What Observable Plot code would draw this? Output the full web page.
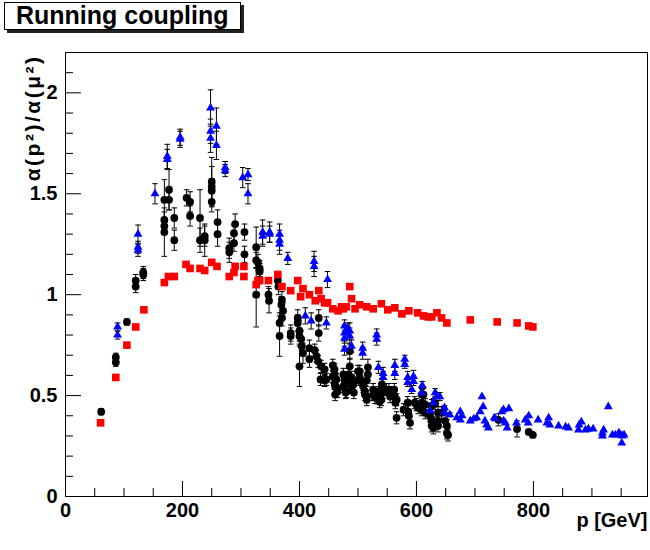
<!DOCTYPE html>
<html><head><meta charset="utf-8">
<script src="https://cdn.jsdelivr.net/npm/d3@7"></script>
<script src="https://cdn.jsdelivr.net/npm/@observablehq/plot@0.6"></script>
<style>
body{margin:0;background:#fff;}
#wrap{position:relative;width:650px;height:550px;}
#title{position:absolute;left:4px;top:2px;width:237px;height:28px;border:1px solid #000;background:#fff;box-shadow:3px 3px 0 #222;font:bold 25px "Liberation Sans",Arial,sans-serif;line-height:21px;padding-left:11px;padding-top:2px;box-sizing:border-box;color:#000;}
</style></head><body><div id="wrap"><div id="title">Running coupling</div></div>
<script>
// ---- data ----
const blackP = [61,86,86,105,120,120,133,133,169,169,169,169,177,177,186,186,207,213,213,230,230,238,238,250,250,250,250,260,260,280,280,288,288,290,306,306,326,326,329,332,332,326,347,348,363,364,369,370,372,370,366,366,385,385,397,397,400,400,403,404,406,400,417,417,426,429,433,433,432,437,443,436,443,446,457,460,457,460,463,460,461,463,465,461,475,477,477,475,480,479,486,486,484,489,488,492,489,493,500,503,503,501,509,509,512,512,515,515,517,517,515,526,526,529,532,535,535,537,539,540,541,543,549,553,555,555,560,562,563,564,566,566,578,585,586,587,589,597,600,603,609,609,612,609,615,615,623,626,626,626,626,629,632,637,635,637,637,643,649,652,654,652,740,772,792,799];
const blackV = [0.42,0.69,0.665,0.865,1.07,1.04,1.11,1.10,1.47,1.37,1.34,1.31,1.52,1.47,1.38,1.27,1.48,1.46,1.39,1.38,1.27,1.29,1.27,1.56,1.535,1.515,1.46,1.36,1.30,1.23,1.21,1.305,1.255,1.35,1.31,1.20,1.235,1.17,1.16,1.13,1.115,1.00,1.00,0.97,1.07,1.04,0.95,0.975,0.92,0.885,0.86,0.795,0.81,0.795,0.885,0.86,0.82,0.795,0.78,0.745,0.71,0.645,0.735,0.68,0.725,0.695,0.885,0.81,0.67,0.645,0.63,0.58,0.575,0.58,0.65,0.63,0.595,0.605,0.58,0.56,0.545,0.54,0.52,0.505,0.605,0.58,0.555,0.545,0.52,0.515,0.72,0.645,0.605,0.59,0.57,0.555,0.54,0.515,0.62,0.62,0.59,0.58,0.555,0.545,0.52,0.505,0.495,0.48,0.64,0.605,0.575,0.53,0.505,0.49,0.49,0.515,0.495,0.47,0.53,0.48,0.555,0.515,0.53,0.53,0.495,0.515,0.515,0.53,0.495,0.465,0.48,0.39,0.43,0.465,0.42,0.40,0.365,0.465,0.455,0.44,0.43,0.505,0.505,0.465,0.455,0.415,0.40,0.45,0.375,0.38,0.35,0.34,0.46,0.415,0.365,0.35,0.375,0.415,0.375,0.35,0.305,0.315,0.38,0.335,0.32,0.305];
const blackE = [0.015,0.02,0.02,0.015,0.03,0.03,0.03,0.03,0.10,0.04,0.04,0.12,0.10,0.05,0.05,0.05,0.04,0.05,0.05,0.14,0.06,0.05,0.08,0.12,0.10,0.06,0.05,0.06,0.06,0.05,0.05,0.04,0.04,0.05,0.04,0.04,0.10,0.04,0.04,0.04,0.04,0.16,0.04,0.06,0.04,0.04,0.04,0.04,0.04,0.04,0.05,0.10,0.04,0.04,0.04,0.04,0.05,0.04,0.04,0.04,0.05,0.10,0.04,0.04,0.03,0.03,0.04,0.04,0.03,0.03,0.03,0.03,0.03,0.03,0.03,0.03,0.03,0.03,0.03,0.03,0.03,0.03,0.03,0.03,0.03,0.03,0.03,0.03,0.03,0.03,0.04,0.04,0.03,0.03,0.03,0.03,0.03,0.03,0.03,0.03,0.03,0.03,0.03,0.03,0.03,0.03,0.03,0.03,0.04,0.03,0.03,0.03,0.03,0.03,0.03,0.03,0.03,0.03,0.03,0.03,0.03,0.03,0.03,0.03,0.03,0.03,0.03,0.03,0.03,0.03,0.03,0.03,0.03,0.03,0.03,0.03,0.03,0.03,0.03,0.03,0.03,0.03,0.03,0.03,0.03,0.03,0.03,0.03,0.03,0.03,0.03,0.03,0.03,0.03,0.03,0.03,0.03,0.03,0.03,0.03,0.03,0.03,0.03,0.04,0,0,0,0];

const blueP = [89,89,124,124,124,153,174,174,196,196,248,248,248,258,258,273,273,303,312,312,337,337,349,349,366,366,366,380,410,420,425,425,446,448,477,477,477,477,483,486,486,489,508,508,532,532,535,543,543,563,563,580,580,585,585,595,595,592,610,609,623,629,632,635,640,648,648,657,669,675,675,678,692,698,703,709,712,714,717,720,723,733,735,746,749,749,752,755,758,771,786,792,791,808,823,826,828,843,855,860,877,878,882,889,894,902,918,920,918,928,935,940,946,949,952,955,951];
const blueV = [0.84,0.80,1.30,1.235,1.22,1.50,1.685,1.67,1.78,1.77,1.925,1.81,1.775,1.835,1.74,1.63,1.615,1.58,1.595,1.50,1.31,1.29,1.31,1.30,1.30,1.27,1.25,1.18,0.895,0.87,1.165,1.14,0.86,1.075,0.845,0.81,0.785,0.73,0.83,0.82,0.795,0.745,0.735,0.71,0.80,0.78,0.64,0.61,0.59,0.65,0.61,0.68,0.655,0.59,0.565,0.595,0.57,0.53,0.55,0.515,0.425,0.465,0.515,0.495,0.495,0.44,0.415,0.405,0.39,0.42,0.38,0.40,0.375,0.385,0.39,0.42,0.495,0.445,0.375,0.355,0.34,0.39,0.385,0.42,0.43,0.375,0.365,0.34,0.435,0.365,0.38,0.40,0.365,0.38,0.365,0.39,0.355,0.35,0.345,0.34,0.33,0.355,0.37,0.33,0.335,0.335,0.315,0.33,0.30,0.445,0.305,0.305,0.315,0.305,0.30,0.305,0.265];
const blueE = [0.02,0.02,0.045,0.03,0.03,0.05,0.06,0.05,0.04,0.04,0.09,0.06,0.07,0.09,0.07,0.03,0.03,0.05,0.03,0.05,0.06,0.05,0.05,0.04,0.05,0.05,0.05,0.03,0.04,0.04,0.05,0.05,0.03,0.04,0.03,0.04,0.04,0.03,0.03,0.04,0.04,0.03,0.03,0.03,0.03,0.03,0.03,0.03,0.03,0.03,0.03,0.02,0.02,0.03,0.02,0.03,0.02,0.02,0.02,0.02,0.02,0.02,0.02,0.02,0.02,0.01,0.01,0.01,0,0,0,0,0,0,0,0,0,0,0,0,0,0,0,0,0,0,0,0,0,0,0,0,0,0,0,0,0,0,0,0,0,0,0,0,0,0,0,0,0,0,0,0,0,0,0,0,0];

const redP = [60,86,105,120,134,169,176,186,206,213,230,238,250,259,280,288,290,305,305,326,329,332,347,363,370,385,397,402,406,417,427,433,437,443,448,457,466,472,475,480,486,489,495,503,515,526,540,551,563,575,587,602,612,620,626,635,643,652,692,738,772,792,799];
const redV = [0.365,0.59,0.75,0.84,0.925,1.06,1.09,1.09,1.15,1.13,1.13,1.12,1.16,1.14,1.09,1.11,1.14,1.14,1.09,1.05,1.07,1.07,1.07,1.10,1.04,1.02,1.07,0.99,1.03,1.00,0.97,1.02,0.98,0.96,0.96,0.93,0.92,0.94,0.93,0.94,1.04,0.98,0.93,0.95,0.94,0.93,0.955,0.925,0.935,0.905,0.92,0.91,0.895,0.89,0.89,0.91,0.885,0.86,0.875,0.865,0.86,0.845,0.84];

const xMajor = [0,200,400,600,800];
const xMinor = [50,100,150,250,300,350,450,500,550,650,700,750,850,900,950];
const yMajor = [0,0.5,1,1.5,2];
const yMinor = [0.1,0.2,0.3,0.4,0.6,0.7,0.8,0.9,1.1,1.2,1.3,1.4,1.6,1.7,1.8,1.9,2.1];
const yTickText = ["0","0.5","1","1.5","2"];
const yTitle = "α(p²)/α(μ²)";
const xTitle = "p [GeV]";

// ---- build tables ----
const black = blackP.map((p,i)=>({p, v:blackV[i], e:blackE[i]}));
const blue = blueP.map((p,i)=>({p, v:blueV[i], e:blueE[i]}));
const red = redP.map((p,i)=>({p, v:redV[i]}));
const errs = black.concat(blue).filter(d=>d.e>0);

const W=650, H=550, mL=65, mR=3, mT=52, mB=54;
const plotW = W-mL-mR, plotH = H-mT-mB;
const cap = {draw(ctx){ctx.moveTo(-2.8,0);ctx.lineTo(2.8,0);}};
const font = "Liberation Sans, Arial, Helvetica, sans-serif";

const chart = Plot.plot({
  width: W, height: H,
  marginLeft: mL, marginRight: mR, marginTop: mT, marginBottom: mB,
  x: {domain:[0,995]},
  y: {domain:[0,2.2]},
  style: {fontFamily: font, background: "white", overflow: "visible", color: "black"},
  marks: [
    Plot.frame({stroke:"black", strokeWidth:1}),
    Plot.tickX(xMajor, {x:d=>d, insetTop: plotH-15, stroke:"black"}),
    Plot.tickX(xMinor, {x:d=>d, insetTop: plotH-8, stroke:"black"}),
    Plot.tickY(yMajor, {y:d=>d, insetRight: plotW-16, stroke:"black"}),
    Plot.tickY(yMinor, {y:d=>d, insetRight: plotW-8, stroke:"black"}),
    Plot.axisX(xMajor, {tickSize:0, tickPadding:6, fontSize:20, fontWeight:"bold", label:null, fill:"black"}),
    Plot.axisY(yMajor, {tickSize:0, tickPadding:8, fontSize:20, fontWeight:"bold", label:null, fill:"black", tickFormat:(d)=>yTickText[yMajor.indexOf(d)]}),
    Plot.text([yTitle], {frameAnchor:"top-left", rotate:-90, textAnchor:"end", dx:-40, dy:2, fontSize:21, fontWeight:"bold", fill:"black"}),
    Plot.text([xTitle], {frameAnchor:"bottom-right", textAnchor:"end", dy:30, fontSize:20, fontWeight:"bold", fill:"black"}),
    // error bars
    Plot.ruleX(errs, {x:"p", y1:d=>d.v-d.e, y2:d=>d.v+d.e, stroke:"black", strokeWidth:1}),
    Plot.dot(errs, {x:"p", y:d=>d.v-d.e, symbol:cap, stroke:"black", fill:"none", strokeWidth:1, r:3}),
    Plot.dot(errs, {x:"p", y:d=>d.v+d.e, symbol:cap, stroke:"black", fill:"none", strokeWidth:1, r:3}),
    // series
    Plot.dot(black, {x:"p", y:"v", r:3.9, fill:"black", stroke:"none"}),
    Plot.dot(red, {x:"p", y:"v", symbol:"square", r:4.3, fill:"#ff0000", stroke:"none"}),
    Plot.dot(blue, {x:"p", y:"v", symbol:"triangle", r:3.3, fill:"#0000ff", stroke:"none"})
  ]
});
d3.select(chart).selectAll("text").filter(function(){return this.textContent===yTitle;}).attr("letter-spacing","2.5px");
document.getElementById("wrap").insertBefore(chart, document.getElementById("title"));
</script>
</body></html>
